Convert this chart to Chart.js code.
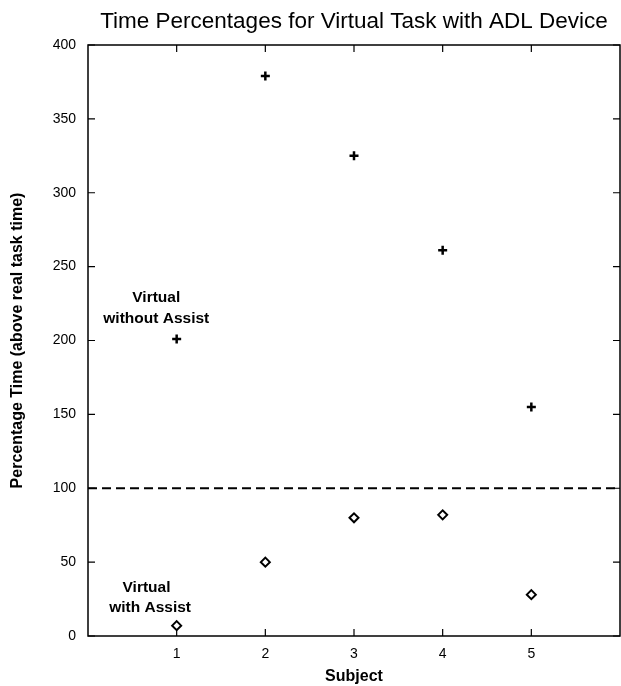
<!DOCTYPE html>
<html>
<head>
<meta charset="utf-8">
<script src="https://cdn.jsdelivr.net/npm/chart.js@4.4.1/dist/chart.umd.min.js"></script>
<style>
  html, body { margin: 0; padding: 0; background: #ffffff; }
  #wrap { width: 621px; height: 686px; position: relative; }
</style>
</head>
<body>
<div id="wrap"><canvas id="chart" width="621" height="686"></canvas></div>
<script>
// Subjects and their time percentages (relative to the real task time)
const subjects = [1, 2, 3, 4, 5];
const withoutAssist = [201, 379, 325, 261, 155];
const withAssist = [7, 50, 80, 82, 28];
const realTaskLevel = [100, 100];
const levelX = [0, 6];
const yTickStep = 50;

const FONT = "'Liberation Sans', Arial, Helvetica, sans-serif";

// Frame with inward tick marks on all four sides, plus the text labels
const framePlugin = {
  id: 'frame',
  afterDraw(chart) {
    const { ctx, chartArea: a, scales: { x, y } } = chart;
    ctx.save();
    ctx.strokeStyle = '#000';
    ctx.lineWidth = 1.5;
    ctx.strokeRect(a.left, a.top, a.right - a.left, a.bottom - a.top);
    const t = 7;
    ctx.lineWidth = 1.2;
    ctx.beginPath();
    subjects.forEach(s => {
      const px = x.getPixelForValue(s);
      ctx.moveTo(px, a.bottom); ctx.lineTo(px, a.bottom - t);
      ctx.moveTo(px, a.top); ctx.lineTo(px, a.top + t);
    });
    y.ticks.forEach(tk => {
      const py = y.getPixelForValue(tk.value);
      ctx.moveTo(a.left, py); ctx.lineTo(a.left + t, py);
      ctx.moveTo(a.right, py); ctx.lineTo(a.right - t, py);
    });
    ctx.stroke();

    // Series labels
    ctx.fillStyle = '#000';
    ctx.font = 'bold 15.5px ' + FONT;
    ctx.textAlign = 'center';
    ctx.textBaseline = 'middle';
    ctx.fillText('Virtual', x.getPixelForValue(0.77), y.getPixelForValue(229));
    ctx.fillText('without Assist', x.getPixelForValue(0.77), y.getPixelForValue(215));
    ctx.fillText('Virtual', x.getPixelForValue(0.66), y.getPixelForValue(33));
    ctx.fillText('with Assist', x.getPixelForValue(0.70), y.getPixelForValue(19));

    // Chart title, centred over the plot
    ctx.font = '22.5px ' + FONT;
    ctx.fillText('Time Percentages for Virtual Task with ADL Device', (a.left + a.right) / 2, 22);
    ctx.restore();
  }
};

new Chart(document.getElementById('chart'), {
  type: 'scatter',
  data: {
    datasets: [
      {
        label: 'Virtual without Assist',
        data: subjects.map((s, i) => ({ x: s, y: withoutAssist[i] })),
        pointStyle: 'cross',
        pointRadius: 4.5,
        borderColor: '#000',
        backgroundColor: '#000',
        borderWidth: 2.5
      },
      {
        label: 'Virtual with Assist',
        data: subjects.map((s, i) => ({ x: s, y: withAssist[i] })),
        pointStyle: 'rectRot',
        pointRadius: 4.5,
        borderColor: '#000',
        backgroundColor: '#fff',
        borderWidth: 2
      },
      {
        type: 'line',
        label: 'Real task time',
        data: levelX.map((v, i) => ({ x: v, y: realTaskLevel[i] })),
        borderColor: '#000',
        borderWidth: 2,
        borderDash: [9, 5],
        pointRadius: 0,
        fill: false
      }
    ]
  },
  options: {
    responsive: false,
    animation: false,
    layout: { autoPadding: false, padding: { top: 45, right: 1, left: 0, bottom: 0 } },
    plugins: {
      legend: { display: false },
      tooltip: { enabled: false },
      title: { display: false }
    },
    scales: {
      x: {
        type: 'linear',
        min: 0,
        max: 6,
        grid: { display: false, drawTicks: false },
        border: { display: false },
        ticks: {
          stepSize: 1,
          padding: 10,
          color: '#000',
          font: { family: FONT, size: 14 },
          callback: v => (v >= 1 && v <= 5 ? String(v) : '')
        },
        title: {
          display: true,
          text: 'Subject',
          color: '#000',
          font: { family: FONT, size: 16, weight: 'bold' },
          padding: { top: 0, bottom: 0 }
        },
        afterFit: s => { s.height = 50; s.paddingLeft = 0; s.paddingRight = 0; }
      },
      y: {
        type: 'linear',
        min: 0,
        max: 400,
        grid: { display: false, drawTicks: false },
        border: { display: false },
        ticks: {
          stepSize: yTickStep,
          padding: 12,
          color: '#000',
          font: { family: FONT, size: 14 }
        },
        title: {
          display: true,
          text: 'Percentage Time (above real task time)',
          color: '#000',
          font: { family: FONT, size: 16, weight: 'bold' },
          padding: { top: 8, bottom: 0 }
        },
        afterFit: s => { s.width = 88; s.paddingTop = 0; s.paddingBottom = 0; }
      }
    }
  },
  plugins: [framePlugin]
});
</script>
</body>
</html>
